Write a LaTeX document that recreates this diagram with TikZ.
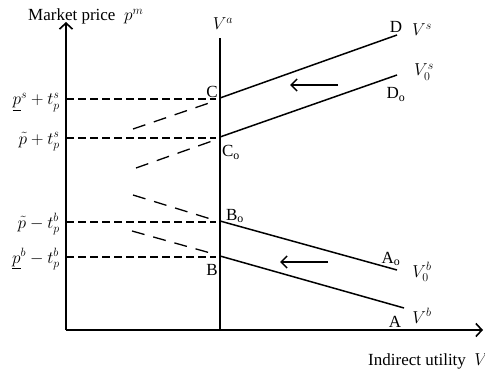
\documentclass[tikz,border=0pt]{standalone}
\usepackage{fontspec}
\setmainfont{Liberation Serif}
\usetikzlibrary{arrows.meta}
\begin{document}
\begin{tikzpicture}[x=1pt,y=1pt,
  every node/.style={font=\fontsize{17}{20}\selectfont, inner sep=0pt},
  axis/.style={line width=1.6pt, -{Straight Barb[length=6pt,width=13pt,line width=1.6pt]}},
  curve/.style={line width=1.5pt},
  hdash/.style={line width=1.3pt, dash pattern=on 8pt off 4pt},
  sdash/.style={line width=1.3pt, dash pattern=on 13pt off 9pt},
  shiftarrow/.style={line width=1.5pt, -{Straight Barb[length=6pt,width=12pt,line width=1.5pt]}}]
\useasboundingbox (0,0) rectangle (485,373);
% axes
\coordinate (O) at (66,43);
\coordinate (ytip) at (66,351);
\coordinate (xtip) at (483,43);
\draw[axis] (O) -- (ytip);
\draw[axis] (O) -- (xtip);
% V^a line
\coordinate (Vabot) at (220,43);
\coordinate (Vatop) at (220,335);
\draw[line width=1.6pt] (Vabot) -- (Vatop);
% points
\coordinate (C) at (220,275);
\coordinate (Co) at (220,236);
\coordinate (Bo) at (220,152);
\coordinate (B) at (220,117);
\coordinate (D) at (397,338);
\coordinate (Do) at (397,298);
\coordinate (Ao) at (397,103);
\coordinate (A) at (404,65);
\draw[curve] (C) -- (D);
\draw[curve] (Co) -- (Do);
\draw[curve] (Bo) -- (Ao);
\draw[curve] (B) -- (A);
% horizontal dashed
\coordinate (h1a) at (66,274); \coordinate (h1b) at (216,274);
\coordinate (h2a) at (66,235); \coordinate (h2b) at (216,235);
\coordinate (h3a) at (66,151); \coordinate (h3b) at (216,151);
\coordinate (h4a) at (66,116); \coordinate (h4b) at (216,116);
\draw[hdash] (h1a) -- (h1b);
\draw[hdash] (h2a) -- (h2b);
\draw[hdash] (h3a) -- (h3b);
\draw[hdash] (h4a) -- (h4b);
% slanted dashed
\coordinate (s1a) at (133,244); \coordinate (s1b) at (215,272);
\coordinate (s2a) at (136,205); \coordinate (s2b) at (215,233);
\coordinate (s3a) at (133,178); \coordinate (s3b) at (214,153);
\coordinate (s4a) at (132,142); \coordinate (s4b) at (214,119);
\draw[sdash] (s1a) -- (s1b);
\draw[sdash] (s2a) -- (s2b);
\draw[sdash] (s3a) -- (s3b);
\draw[sdash] (s4a) -- (s4b);
% shift arrows
\coordinate (ar1a) at (338,288); \coordinate (ar1b) at (290,288);
\coordinate (ar2a) at (328,111); \coordinate (ar2b) at (280,111);
\draw[shiftarrow] (ar1a) -- (ar1b);
\draw[shiftarrow] (ar2a) -- (ar2b);
% labels
\node[anchor=base west] (ylab) at (28,352) {Market price\ \ $p^{m}$};
\node[anchor=base west] (xlab) at (368,8) {Indirect utility\ \ $V$};
\node[anchor=base] (lVa) at (223,343) {$V^{a}$};
\node[anchor=base] (lC) at (212,276) {C};
\node[anchor=base] (lCo) at (231,216) {C$_{\mathrm{o}}$};
\node[anchor=base] (lD) at (396,340) {D};
\node[anchor=base] (lVs) at (422,337) {$V^{s}$};
\node[anchor=base] (lVs0) at (424,297) {$V_0^{s}$};
\node[anchor=base] (lDo) at (396,274) {D$_{\mathrm{o}}$};
\node[anchor=base] (lBo) at (235,153) {B$_{\mathrm{o}}$};
\node[anchor=base] (lB) at (212,98) {B};
\node[anchor=base] (lAo) at (391,110) {A$_{\mathrm{o}}$};
\node[anchor=base] (lVb0) at (422,96) {$V_0^{b}$};
\node[anchor=base] (lA) at (395,46) {A};
\node[anchor=base] (lVb) at (422,50) {$V^{b}$};
\node[anchor=base east] (l1) at (60,268) {$\underline{p}^{s}+t_p^{s}$};
\node[anchor=base east] (l2) at (60,229) {$\tilde{p}+t_p^{s}$};
\node[anchor=base east] (l3) at (60,145) {$\tilde{p}-t_p^{b}$};
\node[anchor=base east] (l4) at (60,110) {$\underline{p}^{b}-t_p^{b}$};
\end{tikzpicture}
\end{document}
